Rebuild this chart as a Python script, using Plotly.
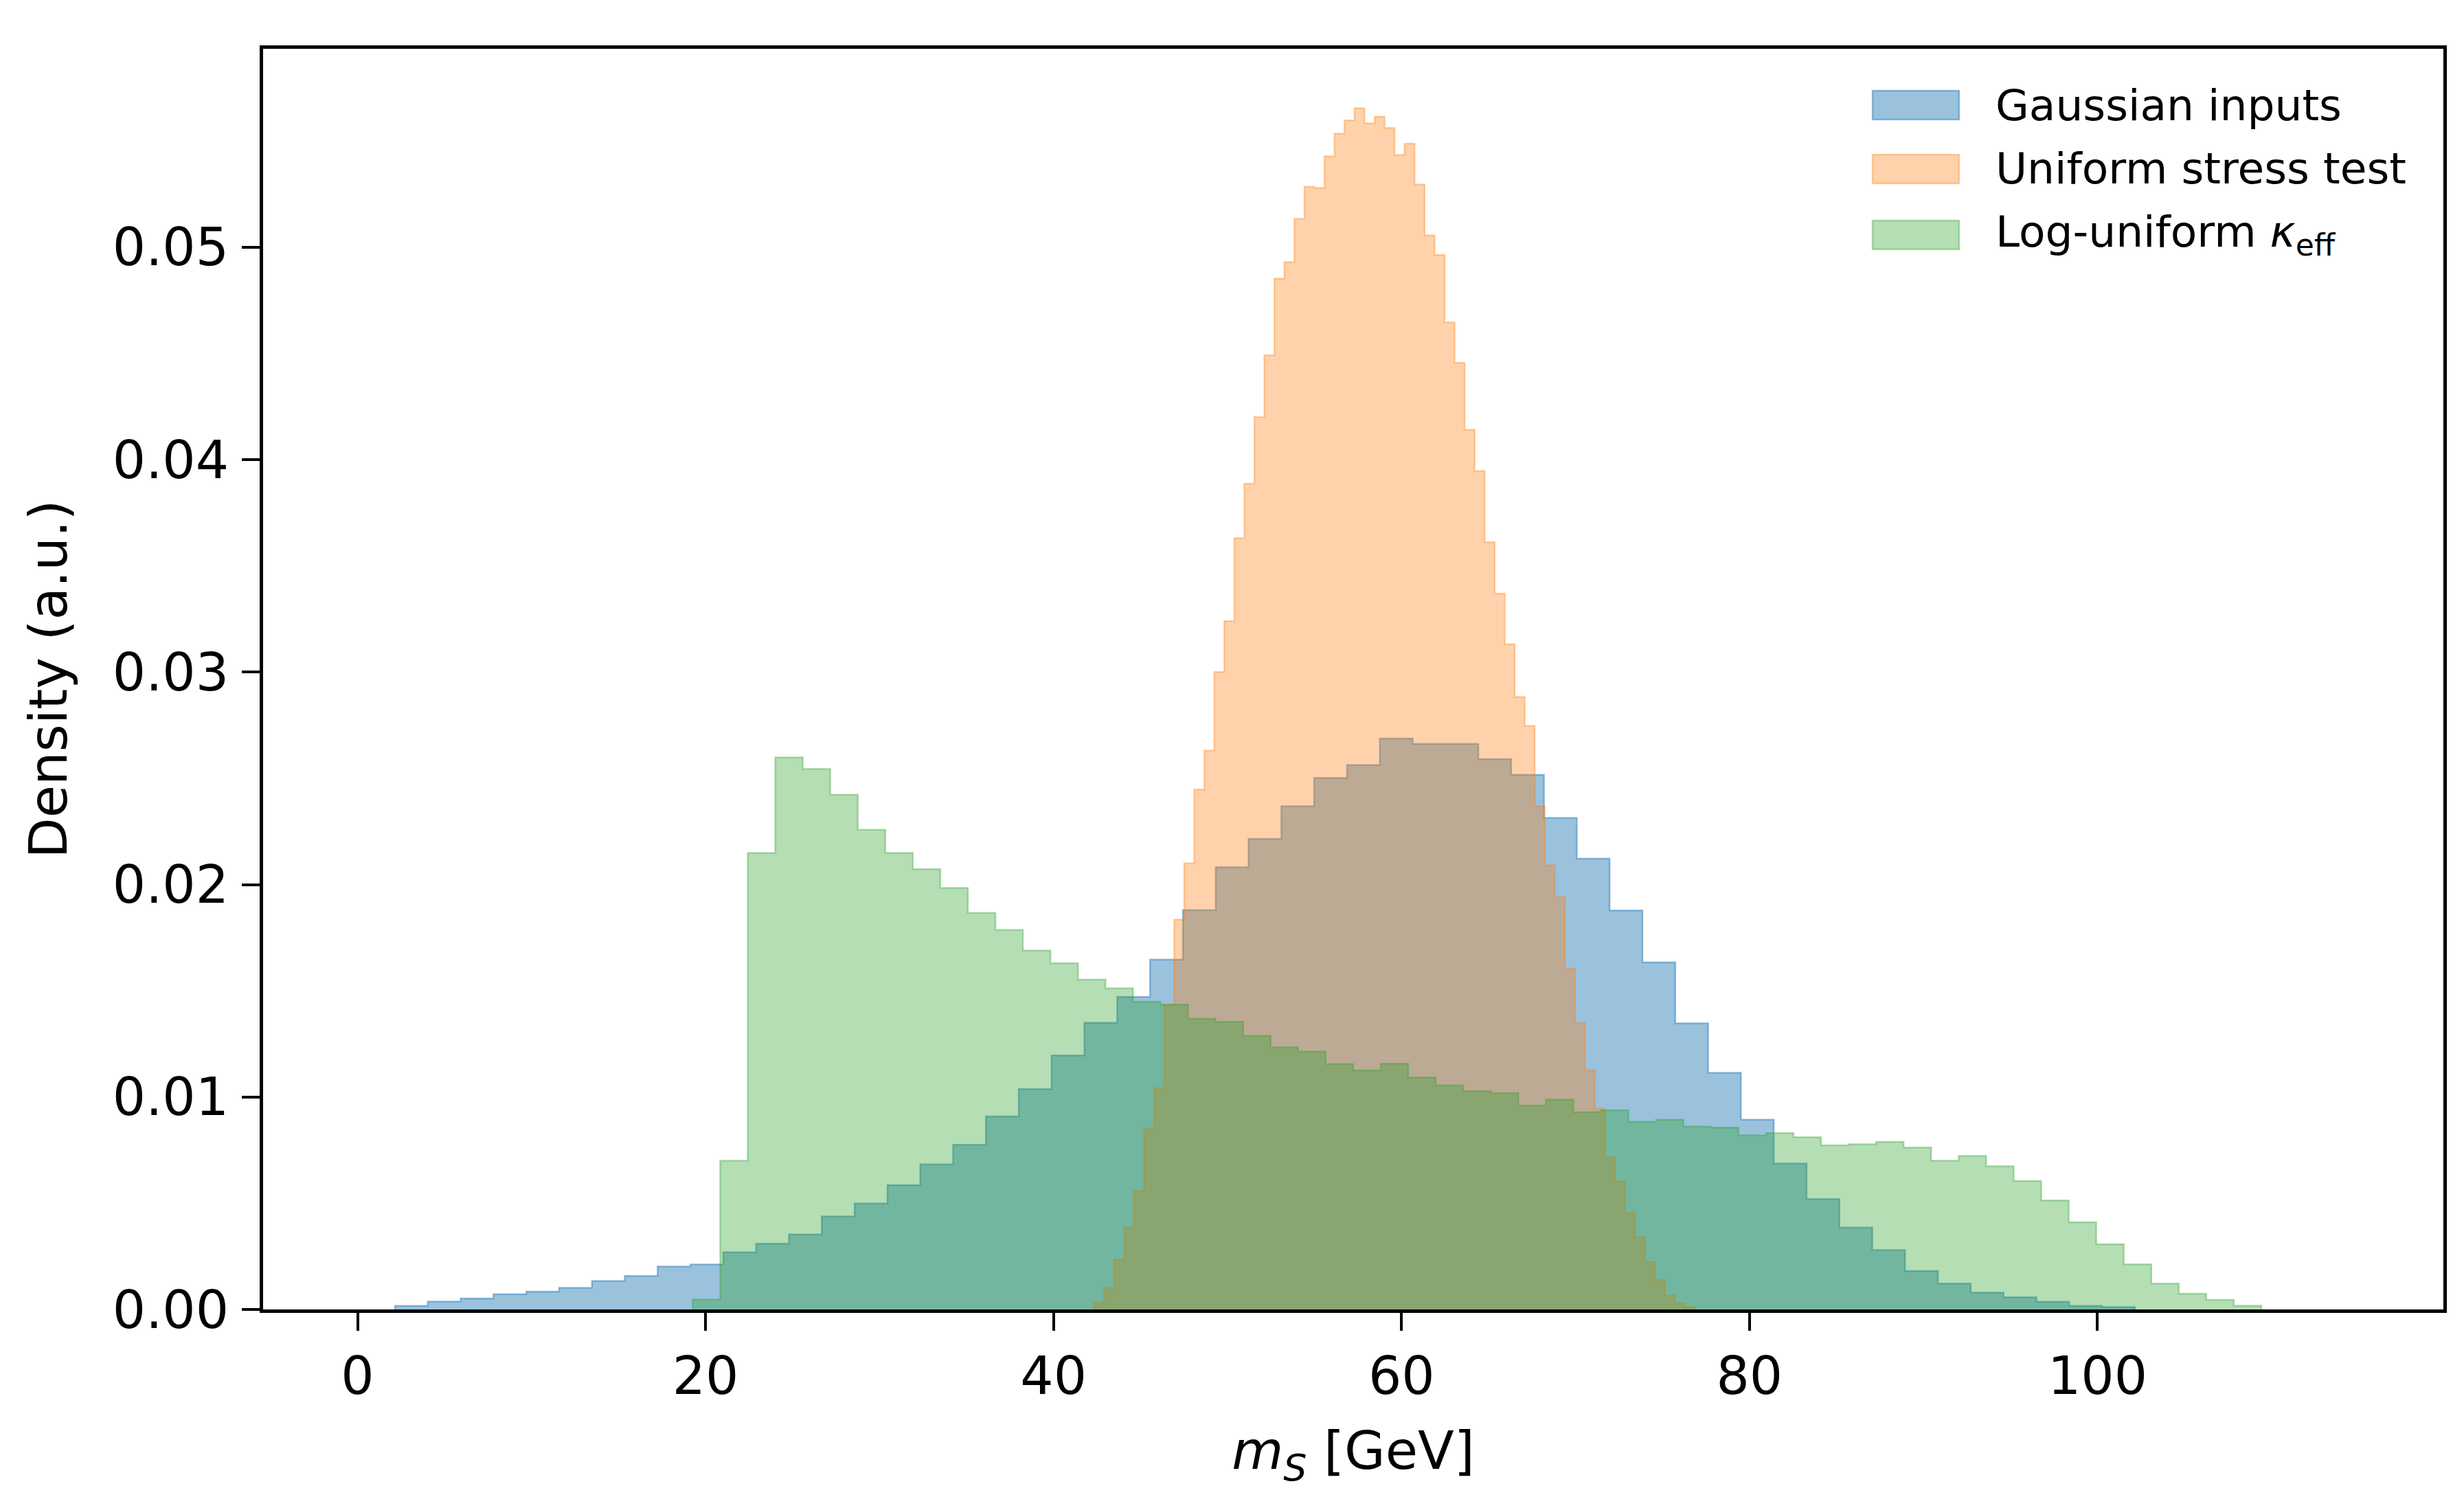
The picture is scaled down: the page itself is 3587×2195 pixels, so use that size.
import numpy as np
import plotly.graph_objects as go

# ---------------- data ----------------
series_names = ["Gaussian inputs", "Uniform stress test", "Log-uniform <i>κ</i><sub>eff</sub>"]

# bin edges: lower edge, upper edge, number of bins
gauss_range = (2.15, 102.15, 53)
uniform_range = (42.33, 76.87, 60)
loguni_range = (19.26, 109.42, 57)

gauss_density = [
    0.00017, 0.00037, 0.00052, 0.00072, 0.00084, 0.00102, 0.00134, 0.00158, 0.00202, 0.00212,
    0.00269, 0.00310, 0.00353, 0.00438, 0.00499, 0.00585, 0.00683, 0.00775, 0.00909, 0.01037,
    0.01196, 0.01349, 0.01471, 0.01647, 0.01880, 0.02082, 0.02215, 0.02369, 0.02502, 0.02563,
    0.02687, 0.02662, 0.02662, 0.02590, 0.02517, 0.02314, 0.02122, 0.01878, 0.01634, 0.01347,
    0.01114, 0.00893, 0.00687, 0.00520, 0.00386, 0.00280, 0.00181, 0.00122, 0.00079, 0.00057,
    0.00036, 0.00017, 0.00011,
]

uniform_density = [
    0.00032, 0.00102, 0.00235, 0.00387, 0.00558, 0.00852, 0.01042, 0.01435, 0.01835, 0.02100,
    0.02447, 0.02631, 0.03001, 0.03240, 0.03631, 0.03887, 0.04201, 0.04492, 0.04852, 0.04930,
    0.05134, 0.05285, 0.05279, 0.05428, 0.05535, 0.05597, 0.05654, 0.05583, 0.05615, 0.05561,
    0.05434, 0.05488, 0.05295, 0.05056, 0.04964, 0.04646, 0.04456, 0.04141, 0.03947, 0.03611,
    0.03370, 0.03131, 0.02883, 0.02747, 0.02369, 0.02090, 0.01941, 0.01605, 0.01349, 0.01125,
    0.00947, 0.00717, 0.00603, 0.00456, 0.00339, 0.00224, 0.00138, 0.00066, 0.00029, 0.00011,
]

loguni_density = [
    0.00047, 0.00700, 0.02149, 0.02598, 0.02544, 0.02423, 0.02258, 0.02149, 0.02073, 0.01984,
    0.01867, 0.01787, 0.01690, 0.01630, 0.01553, 0.01512, 0.01449, 0.01435, 0.01369, 0.01354,
    0.01288, 0.01234, 0.01214, 0.01155, 0.01125, 0.01157, 0.01092, 0.01055, 0.01028, 0.01019,
    0.00960, 0.00988, 0.00929, 0.00938, 0.00884, 0.00893, 0.00861, 0.00856, 0.00820, 0.00830,
    0.00811, 0.00773, 0.00778, 0.00789, 0.00762, 0.00700, 0.00723, 0.00674, 0.00605, 0.00513,
    0.00411, 0.00307, 0.00213, 0.00122, 0.00074, 0.00045, 0.00018,
]

x_ticks = [0, 20, 40, 60, 80, 100]
y_ticks = [0.00, 0.01, 0.02, 0.03, 0.04, 0.05]

# ---------------- styling ----------------
# the page body has an 8 px margin, so the figure is drawn 8 px in from the corner
PAGE_OFF = 8
W, H = 3587 - 2 * PAGE_OFF, 2195 - 2 * PAGE_OFF
PLOT_W, PLOT_H = 3174, 1835
M_L, M_T = 383 - PAGE_OFF, 71 - PAGE_OFF
M_R = W - M_L - PLOT_W
M_B = H - M_T - PLOT_H
FONT = "DejaVu Sans"
TICK_SIZE = 76
TITLE_SIZE = 77
LEGEND_SIZE = 63
colors = [
    "rgba(31,119,180,0.45)",
    "rgba(255,127,14,0.35)",
    "rgba(44,160,44,0.35)",
]
ranges = [gauss_range, uniform_range, loguni_range]
densities = [gauss_density, uniform_density, loguni_density]


def step_xy(rng, dens):
    lo, hi, n = rng
    edges = np.linspace(lo, hi, n + 1)
    xs = [edges[0]] + list(edges) + [edges[-1]]
    ys = [0.0] + list(dens) + [dens[-1], 0.0]
    return xs, ys


fig = go.Figure()
for name, rng, dens, col in zip(series_names, ranges, densities, colors):
    xs, ys = step_xy(rng, dens)
    fig.add_trace(go.Scatter(
        x=xs, y=ys, name=name, mode="lines", line_shape="hv",
        line=dict(color=col, width=2.5), fill="tozeroy", fillcolor=col,
        showlegend=False, hoverinfo="skip",
    ))

# custom legend (matplotlib-like patches); positions in page pixels of the reference
leg_x0 = (2726 - 383) / PLOT_W
leg_x1 = (2852 - 383) / PLOT_W
txt_x = (2903 - 383) / PLOT_W
half_h = 21 / PLOT_H
row_centers_px = [153, 246, 342]
for name, col, cy in zip(series_names, colors, row_centers_px):
    yc = (1906 - cy) / PLOT_H
    fig.add_shape(type="rect", xref="paper", yref="paper",
                  x0=leg_x0, x1=leg_x1, y0=yc - half_h, y1=yc + half_h,
                  fillcolor=col, line=dict(color=col, width=2.5))
    fig.add_annotation(xref="paper", yref="paper", x=txt_x, y=yc,
                       xanchor="left", yanchor="middle", showarrow=False,
                       text=name, font=dict(family=FONT, size=LEGEND_SIZE, color="black"))

axis_common = dict(
    showline=True, linecolor="black", linewidth=4.5, mirror=True,
    ticks="outside", ticklen=26, tickwidth=3.5, tickcolor="black",
    showgrid=False, zeroline=False,
    tickfont=dict(family=FONT, size=TICK_SIZE, color="black"),
)

fig.update_layout(
    width=W, height=H,
    margin=dict(l=M_L, r=M_R, t=M_T, b=M_B, autoexpand=False),
    paper_bgcolor="white", plot_bgcolor="white",
    font=dict(family=FONT, color="black"),
    xaxis=dict(
        range=[-5.43, 119.88], tickmode="array", tickvals=x_ticks,
        ticktext=[str(v) for v in x_ticks], ticklabelstandoff=1,
        title=dict(text="<i>m</i><sub><i>S</i></sub> [GeV]",
                   font=dict(family=FONT, size=TITLE_SIZE, color="black"), standoff=40),
        **axis_common,
    ),
    yaxis=dict(
        range=[0, 0.05934], tickmode="array", tickvals=y_ticks,
        ticktext=[f"{v:.2f}" for v in y_ticks], ticklabelstandoff=4,
        title=dict(text="Density (a.u.)",
                   font=dict(family=FONT, size=TITLE_SIZE, color="black"), standoff=42),
        **axis_common,
    ),
)

fig.write_html("out.html")
